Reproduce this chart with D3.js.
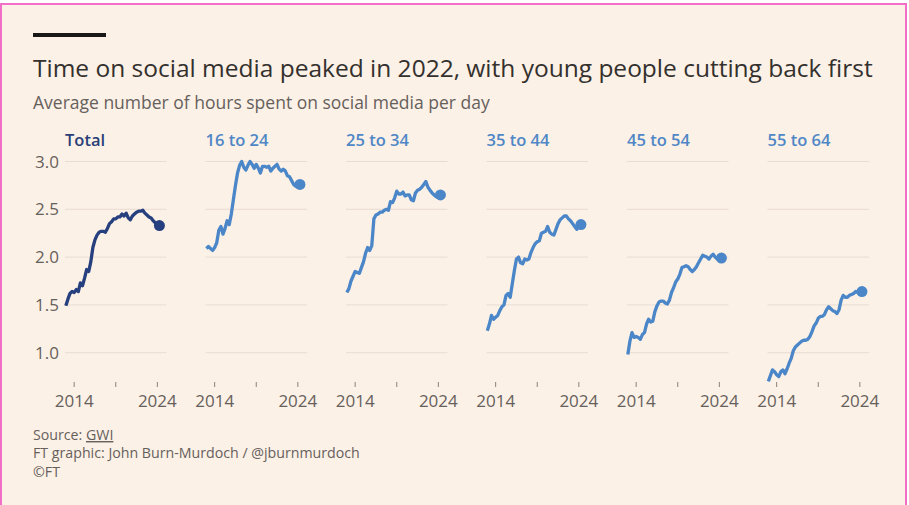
<!DOCTYPE html>
<meta charset="utf-8">
<script src="https://d3js.org/d3.v7.min.js"></script>
<style>
  body { margin: 0; background: #fff; }
  text { font-family: "Open Sans", "Noto Sans", sans-serif; }
</style>
<div id="chart"></div>
<script>
    // quarterly readings, Q1 2013 -> Q2 2024
    const startYear = 2013;
    const panels = ["Total", "16 to 24", "25 to 34", "35 to 44", "45 to 54", "55 to 64"];

    const total = [1.49,1.56,1.62,1.64,1.63,1.66,1.64,1.73,1.70,1.78,1.87,1.85,1.95,2.10,2.18,2.23,
        2.26,2.27,2.27,2.26,2.30,2.35,2.37,2.40,2.40,2.42,2.42,2.45,2.43,2.46,2.41,2.39,2.43,2.45,
        2.47,2.48,2.48,2.49,2.46,2.44,2.42,2.41,2.38,2.36,2.33,2.33];
    const age16to24 = [2.09,2.11,2.09,2.07,2.10,2.15,2.28,2.32,2.24,2.30,2.38,2.34,2.45,2.60,2.75,2.88,
        2.96,3.00,2.94,2.91,2.96,3.00,2.97,2.93,2.97,2.93,2.88,2.95,2.95,2.94,2.95,2.90,2.93,2.95,
        2.97,2.92,2.90,2.92,2.90,2.85,2.84,2.80,2.76,2.74,2.75,2.76];
    const age25to34 = [1.63,1.67,1.75,1.80,1.85,1.84,1.83,1.89,1.95,2.04,2.10,2.07,2.12,2.40,2.44,2.45,
        2.47,2.47,2.49,2.50,2.49,2.58,2.57,2.62,2.69,2.66,2.66,2.68,2.64,2.65,2.65,2.60,2.59,2.67,
        2.70,2.71,2.73,2.76,2.79,2.73,2.70,2.67,2.65,2.63,2.64,2.65];
    const age35to44 = [1.23,1.30,1.39,1.35,1.37,1.39,1.44,1.48,1.50,1.60,1.62,1.58,1.72,1.86,1.98,2.00,
        1.94,1.93,1.98,1.97,1.98,2.05,2.10,2.14,2.16,2.17,2.25,2.26,2.27,2.32,2.26,2.24,2.23,2.29,
        2.35,2.39,2.41,2.43,2.43,2.40,2.38,2.35,2.32,2.29,2.33,2.34];
    const age45to54 = [0.98,1.12,1.21,1.16,1.17,1.16,1.14,1.19,1.21,1.30,1.35,1.32,1.33,1.43,1.49,1.53,
        1.54,1.54,1.52,1.51,1.55,1.63,1.68,1.74,1.77,1.82,1.89,1.90,1.91,1.90,1.87,1.85,1.87,1.90,
        1.94,1.98,2.02,2.01,2.00,1.98,2.01,2.03,2.00,1.98,2.00,1.99];
    const age55to64 = [0.70,0.76,0.82,0.80,0.77,0.75,0.80,0.82,0.78,0.83,0.89,0.94,1.02,1.06,1.08,1.10,
        1.12,1.13,1.13,1.14,1.17,1.22,1.28,1.31,1.36,1.38,1.38,1.40,1.45,1.48,1.46,1.44,1.43,1.41,
        1.45,1.55,1.60,1.58,1.58,1.60,1.61,1.62,1.64,1.63,1.64,1.64];
    const seriesList = [total, age16to24, age25to34, age35to44, age45to54, age55to64];

    const yTicks = [1.0, 1.5, 2.0, 2.5, 3.0];
    const xTicks = [2014, 2019, 2024];
    const xTickLabels = {2014: "2014", 2024: "2024"};

    const W = 909, H = 505;
    const svg = d3.select("#chart").append("svg")
        .attr("width", W).attr("height", H);

    // FT paper background with the pink frame
    svg.append("rect")
        .attr("x", 1).attr("y", 4).attr("width", 905).attr("height", 510)
        .attr("fill", "#fcf1e6").attr("stroke", "#f26fc8").attr("stroke-width", 2);

    svg.append("rect").attr("x", 33).attr("y", 33).attr("width", 73).attr("height", 4).attr("fill", "#1a1817");

    svg.append("text").attr("x", 33).attr("y", 77)
        .attr("font-size", 24.5).attr("fill", "#33302e")
        .text("Time on social media peaked in 2022, with young people cutting back first");
    svg.append("text").attr("x", 33).attr("y", 109)
        .attr("font-size", 17.5).attr("fill", "#66605c")
        .text("Average number of hours spent on social media per day");

    const panelWidth = 101.5, panelStep = 140.5, panelLeft = 65;
    const x = d3.scaleLinear().domain([2012.9, 2025.1]).range([0, panelWidth]);
    const y = d3.scaleLinear().domain([1, 3]).range([352.7, 161.5]);

    // y labels (only once, left of first panel)
    svg.append("g").selectAll("text").data(yTicks).join("text")
        .attr("x", 35).attr("y", d => y(d)).attr("dy", "0.36em")
        .attr("font-size", 17).attr("fill", "#66605c")
        .text(d => d3.format(".1f")(d));

    const line = d3.line()
        .x((d, i) => x(startYear + i * 0.25))
        .y(d => y(d));

    panels.forEach((name, p) => {
        const g = svg.append("g").attr("transform", `translate(${panelLeft + p * panelStep},0)`);
        const colour = p === 0 ? "#263f7e" : "#4a86c8";
        const labelColour = p === 0 ? "#2a3f78" : "#4f87c6";

        g.selectAll("line.grid").data(yTicks).join("line")
            .attr("class", "grid")
            .attr("x1", 0).attr("x2", panelWidth)
            .attr("y1", d => y(d)).attr("y2", d => y(d))
            .attr("stroke", "#e8ddd3").attr("stroke-width", 1);

        g.append("text").attr("x", 0).attr("y", 146)
            .attr("font-size", 16.5).attr("font-weight", 600).attr("fill", labelColour)
            .text(name);

        g.selectAll("line.tick").data(xTicks).join("line")
            .attr("class", "tick")
            .attr("x1", d => x(d)).attr("x2", d => x(d))
            .attr("y1", 382).attr("y2", 387)
            .attr("stroke", "#8a837d").attr("stroke-width", 1);

        g.selectAll("text.xl").data(xTicks.filter(d => xTickLabels[d])).join("text")
            .attr("class", "xl")
            .attr("x", d => x(d)).attr("y", 407)
            .attr("text-anchor", "middle")
            .attr("font-size", 17).attr("fill", "#66605c")
            .text(d => xTickLabels[d]);

        const data = seriesList[p];
        g.append("path").datum(data)
            .attr("d", line)
            .attr("fill", "none").attr("stroke", colour)
            .attr("stroke-width", 3.3).attr("stroke-linejoin", "round");

        g.append("circle")
            .attr("cx", x(startYear + (data.length - 1) * 0.25))
            .attr("cy", y(data[data.length - 1]))
            .attr("r", 5.5).attr("fill", colour);
    });

    // footer
    const foot = svg.append("g").attr("font-size", 14.2).attr("fill", "#66605c");
    const src = foot.append("text").attr("x", 33).attr("y", 440);
    src.append("tspan").text("Source: ");
    src.append("tspan").attr("text-decoration", "underline").text("GWI");
    foot.append("text").attr("x", 33).attr("y", 458).text("FT graphic: John Burn-Murdoch / @jburnmurdoch");
    foot.append("text").attr("x", 33).attr("y", 477).text("\u00A9FT");
</script>
</html>
